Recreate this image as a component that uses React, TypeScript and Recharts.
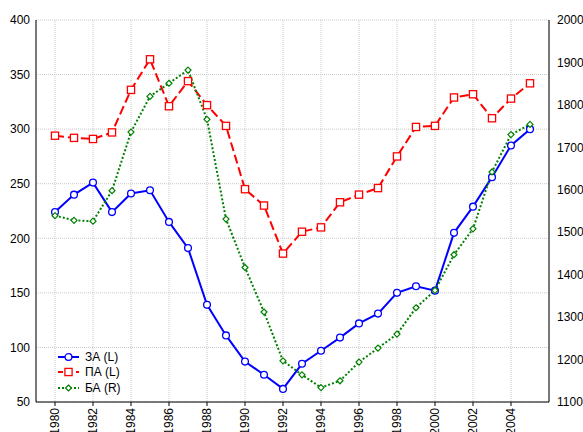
import {
  CartesianGrid,
  Legend,
  Line,
  LineChart,
  XAxis,
  YAxis,
} from 'recharts'

const years = [
  1980, 1981, 1982, 1983, 1984, 1985, 1986, 1987, 1988, 1989, 1990, 1991, 1992,
  1993, 1994, 1995, 1996, 1997, 1998, 1999, 2000, 2001, 2002, 2003, 2004, 2005,
]
const zaValues = [
  224, 240, 251, 224, 241, 244, 215, 191, 139, 111, 87, 75, 62, 85, 97, 109, 122,
  131, 150, 156, 152, 205, 229, 256, 285, 300,
]
const paValues = [
  294, 292, 291, 297, 336, 364, 321, 344, 322, 303, 245, 230, 186, 206, 210, 233,
  240, 246, 275, 302, 303, 329, 332, 310, 328, 342,
]
const baValues = [
  1539, 1528, 1526, 1598, 1736, 1820, 1851, 1882, 1766, 1531, 1417, 1312, 1197,
  1164, 1134, 1150, 1194, 1227, 1260, 1322, 1363, 1447, 1508, 1642, 1730, 1754,
]
const yearTicks = [1980, 1982, 1984, 1986, 1988, 1990, 1992, 1994, 1996, 1998, 2000, 2002, 2004]
const leftTicks = [50, 100, 150, 200, 250, 300, 350, 400]
const rightTicks = [1100, 1200, 1300, 1400, 1500, 1600, 1700, 1800, 1900, 2000]

const data = years.map((year, i) => ({
  year,
  za: zaValues[i],
  pa: paValues[i],
  ba: baValues[i],
}))

const FONT = '"Liberation Sans", Arial, sans-serif'

type Marker = 'circle' | 'square' | 'diamond'

function markerShape(kind: Marker, cx: number, cy: number, color: string, key?: string) {
  if (kind === 'circle') {
    return <circle key={key} cx={cx} cy={cy} r={3.4} fill="#fff" stroke={color} strokeWidth={1.3} />
  }
  if (kind === 'square') {
    return (
      <rect key={key} x={cx - 3.6} y={cy - 3.6} width={7.2} height={7.2} fill="#fff" stroke={color} strokeWidth={1.3} />
    )
  }
  return (
    <path
      key={key}
      d={`M${cx},${cy - 3} L${cx + 3},${cy} L${cx},${cy + 3} L${cx - 3},${cy} Z`}
      fill="#fff"
      stroke={color}
      strokeWidth={1.2}
    />
  )
}

const series = [
  { key: 'za', name: 'ЗА (L)', color: '#0000ff', dash: undefined, marker: 'circle' as Marker, axis: 'left' },
  { key: 'pa', name: 'ПА (L)', color: '#ff0000', dash: '9 4', marker: 'square' as Marker, axis: 'left' },
  { key: 'ba', name: 'БА (R)', color: '#008000', dash: '2 2', marker: 'diamond' as Marker, axis: 'right' },
]

function YearTick({ x, y, payload }: any) {
  return (
    <text
      x={x}
      y={y}
      dy="0.35em"
      transform={`rotate(-90 ${x} ${y})`}
      textAnchor="end"
      fontSize={12}
      fill="#000"
      fontFamily={FONT}
    >
      {payload.value}
    </text>
  )
}

function ChartLegend() {
  return (
    <div style={{ fontFamily: FONT, fontSize: 12, color: '#000' }}>
      {series.map((s) => (
        <div key={s.key} style={{ display: 'flex', alignItems: 'center', height: 15.5 }}>
          <svg width={24} height={12}>
            <line x1={2} x2={23} y1={6} y2={6} stroke={s.color} strokeWidth={2} strokeDasharray={s.dash === '9 4' ? '5 4' : s.dash} />
            {markerShape(s.marker, 12.5, 6, s.color)}
          </svg>
          <span style={{ marginLeft: 5 }}>{s.name}</span>
        </div>
      ))}
    </div>
  )
}

export default function App() {
  return (
    <div style={{ position: 'absolute', left: 0, top: 0, width: 583, height: 432, background: '#fff' }}>
      <LineChart
        width={583}
        height={432}
        data={data}
        margin={{ top: 20, right: 0, bottom: 0, left: 0 }}
        style={{ fontFamily: FONT }}
      >
        <CartesianGrid
          yAxisId="left"
          stroke="#c8c8c8"
          strokeDasharray="1 1"
        />
        <XAxis
          dataKey="year"
          type="number"
          domain={[1979, 2006]}
          ticks={yearTicks}
          interval={0}
          height={30}
          tick={<YearTick />}
          tickSize={4}
          tickMargin={2}
          stroke="#000"
          axisLine={{ stroke: '#000' }}
          tickLine={{ stroke: '#000' }}
        />
        <XAxis
          xAxisId="top"
          orientation="top"
          dataKey="year"
          type="number"
          domain={[1979, 2006]}
          ticks={yearTicks}
          interval={0}
          height={0}
          mirror
          tick={false}
          tickSize={4}
          axisLine={{ stroke: '#000' }}
          tickLine={{ stroke: '#000' }}
        />
        <YAxis
          yAxisId="left"
          domain={[50, 400]}
          ticks={leftTicks}
          interval={0}
          width={36}
          tickLine={false}
          tickSize={0}
          tickMargin={6}
          axisLine={{ stroke: '#000' }}
          tick={{ fontSize: 12, fill: '#000', fontFamily: FONT }}
        />
        <YAxis
          yAxisId="right"
          orientation="right"
          domain={[1100, 2000]}
          ticks={rightTicks}
          interval={0}
          width={34}
          tickLine={false}
          tickSize={0}
          tickMargin={8}
          axisLine={{ stroke: '#000' }}
          tick={{ fontSize: 12, fill: '#000', fontFamily: FONT, textAnchor: 'start' }}
        />
        <Legend
          layout="horizontal"
          verticalAlign="middle"
          align="center"
          content={<ChartLegend />}
          wrapperStyle={{ left: 56, top: 349, width: 110, height: 48 }}
        />
        {series.map((s) => (
          <Line
            key={s.key}
            yAxisId={s.axis}
            dataKey={s.key}
            name={s.name}
            stroke={s.color}
            strokeWidth={2}
            strokeDasharray={s.dash}
            type="linear"
            isAnimationActive={false}
            dot={(props: any) => markerShape(s.marker, props.cx, props.cy, s.color, `${s.key}-${props.index}`)}
            activeDot={false}
          />
        ))}
      </LineChart>
    </div>
  )
}
